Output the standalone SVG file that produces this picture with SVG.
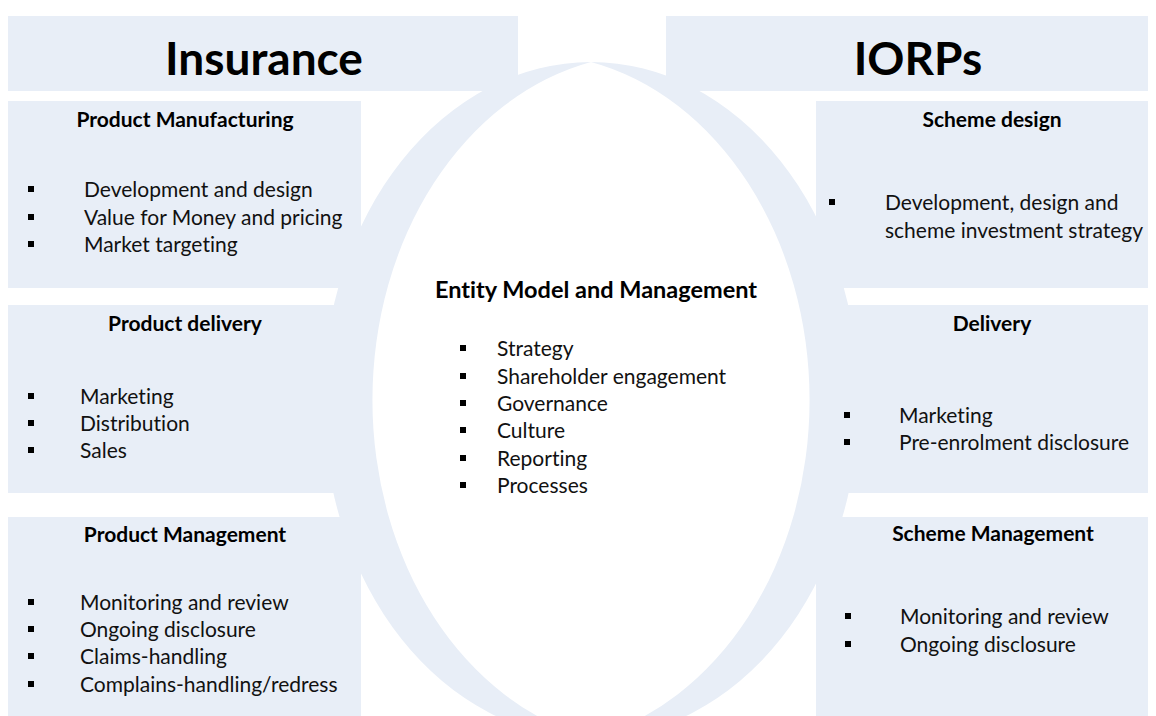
<svg xmlns="http://www.w3.org/2000/svg" width="1156" height="716" viewBox="0 0 1156 716">
  <defs>
    <style>
      .panel { fill: #E8EEF7; }
      text { font-variant-ligatures: none; }
      .title { font-family: Lato, "Liberation Sans", sans-serif; font-weight: bold; font-size: 46px; fill: #000; text-anchor: middle; }
      .head { font-family: Lato, "Liberation Sans", sans-serif; font-weight: bold; font-size: 21px; fill: #000; text-anchor: middle; }
      .big { font-size: 23.5px; }
      .item { font-family: Lato, "Liberation Sans", sans-serif; font-size: 21px; fill: #111; }
      .bul { fill: #000; }
    </style>
    <rect id="b" width="6" height="6" class="bul"/>
  </defs>
  <rect width="1156" height="716" fill="#FFFFFF"/>

  <g id="entity-lens">
    <path class="panel" fill-rule="evenodd" d="M591 62 A268 338 0 0 0 323 400 A268 338 0 0 0 591 738 A268 338 0 0 0 859 400 A268 338 0 0 0 591 62 Z M591 62 A278 346 0 0 0 591 738 A278 346 0 0 0 591 62 Z"/>
  </g>

  <g id="title-insurance">
    <rect class="panel" x="8" y="16" width="510" height="75"/>
    <text class="title" x="264" y="75">Insurance</text>
  </g>
  <g id="title-iorps">
    <rect class="panel" x="666" y="16" width="482" height="75"/>
    <text class="title" x="918" y="75">IORPs</text>
  </g>

  <g id="product-manufacturing">
    <rect class="panel" x="8" y="101" width="353" height="187"/>
    <text class="head" x="185" y="127">Product Manufacturing</text>
    <use href="#b" x="28" y="186"/><text class="item" x="84" y="197">Development and design</text>
    <use href="#b" x="28" y="214"/><text class="item" x="84" y="225">Value for Money and pricing</text>
    <use href="#b" x="28" y="241"/><text class="item" x="84" y="252">Market targeting</text>
  </g>

  <g id="product-delivery">
    <rect class="panel" x="8" y="305" width="353" height="188"/>
    <text class="head" x="185" y="331">Product delivery</text>
    <use href="#b" x="28" y="393"/><text class="item" x="80" y="404">Marketing</text>
    <use href="#b" x="28" y="420"/><text class="item" x="80" y="431">Distribution</text>
    <use href="#b" x="28" y="447"/><text class="item" x="80" y="458">Sales</text>
  </g>

  <g id="product-management">
    <rect class="panel" x="8" y="517" width="353" height="199"/>
    <text class="head" x="185" y="542">Product Management</text>
    <use href="#b" x="28" y="599"/><text class="item" x="80" y="610">Monitoring and review</text>
    <use href="#b" x="28" y="626"/><text class="item" x="80" y="637">Ongoing disclosure</text>
    <use href="#b" x="28" y="653"/><text class="item" x="80" y="664">Claims-handling</text>
    <use href="#b" x="28" y="681"/><text class="item" x="80" y="692">Complains-handling/redress</text>
  </g>

  <g id="scheme-design">
    <rect class="panel" x="816" y="101" width="332" height="187"/>
    <text class="head" x="992" y="127">Scheme design</text>
    <use href="#b" x="829" y="199"/><text class="item" x="885" y="210">Development, design and</text>
    <text class="item" x="885" y="238">scheme investment strategy</text>
  </g>

  <g id="delivery">
    <rect class="panel" x="816" y="305" width="332" height="188"/>
    <text class="head" x="992" y="331">Delivery</text>
    <use href="#b" x="844" y="412"/><text class="item" x="899" y="423">Marketing</text>
    <use href="#b" x="844" y="439"/><text class="item" x="899" y="450">Pre-enrolment disclosure</text>
  </g>

  <g id="scheme-management">
    <rect class="panel" x="816" y="517" width="332" height="199"/>
    <text class="head" x="993" y="541">Scheme Management</text>
    <use href="#b" x="845" y="613"/><text class="item" x="900" y="624">Monitoring and review</text>
    <use href="#b" x="845" y="641"/><text class="item" x="900" y="652">Ongoing disclosure</text>
  </g>

  <g id="entity-model">
    <text class="head big" x="596" y="298">Entity Model and Management</text>
    <use href="#b" x="460" y="345"/><text class="item" x="497" y="356">Strategy</text>
    <use href="#b" x="460" y="373"/><text class="item" x="497" y="384">Shareholder engagement</text>
    <use href="#b" x="460" y="400"/><text class="item" x="497" y="411">Governance</text>
    <use href="#b" x="460" y="427"/><text class="item" x="497" y="438">Culture</text>
    <use href="#b" x="460" y="455"/><text class="item" x="497" y="466">Reporting</text>
    <use href="#b" x="460" y="482"/><text class="item" x="497" y="493">Processes</text>
  </g>

  <g id="connectors"/>
</svg>
